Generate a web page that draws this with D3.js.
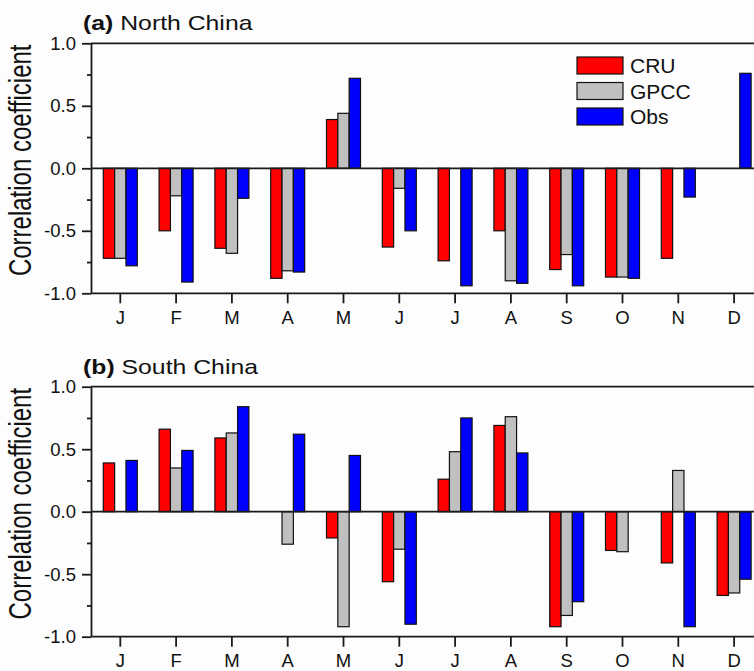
<!DOCTYPE html>
<html>
<head>
<meta charset="utf-8">
<script src="https://cdn.jsdelivr.net/npm/d3@7"></script>
<style>
  html, body { margin: 0; padding: 0; background: #fdfdfd; }
  svg { display: block; }
  text { font-family: "Liberation Sans", Arial, sans-serif; fill: #111; }
</style>
</head>
<body>
<script>
// ---------- DATA ----------
const months = ["J","F","M","A","M","J","J","A","S","O","N","D"];
const seriesNames = ["CRU","GPCC","Obs"];
const seriesColors = ["#ff0000","#c0c0c0","#0000ff"];
const yTicksMajor = [-1.0, -0.5, 0.0, 0.5, 1.0];
const yTicksMinor = [-0.75, -0.25, 0.25, 0.75];

const northCRU  = [-0.72, -0.50, -0.64, -0.88, 0.39, -0.63, -0.74, -0.50, -0.81, -0.87, -0.72, null];
const northGPCC = [-0.72, -0.22, -0.68, -0.82, 0.44, -0.16, null, -0.90, -0.69, -0.87, null, null];
const northObs  = [-0.78, -0.91, -0.24, -0.83, 0.72, -0.50, -0.94, -0.92, -0.94, -0.88, -0.23, 0.76];

const southCRU  = [0.39, 0.66, 0.59, null, -0.21, -0.56, 0.26, 0.69, -0.92, -0.31, -0.41, -0.67];
const southGPCC = [null, 0.35, 0.63, -0.26, -0.92, -0.30, 0.48, 0.76, -0.83, -0.32, 0.33, -0.65];
const southObs  = [0.41, 0.49, 0.84, 0.62, 0.45, -0.90, 0.75, 0.47, -0.72, null, -0.92, -0.54];

const panels = [
  { tag: "(a)", name: "North China", series: [northCRU, northGPCC, northObs], legend: true },
  { tag: "(b)", name: "South China", series: [southCRU, southGPCC, southObs], legend: false }
];

// ---------- LAYOUT ----------
const W = 754, H = 671;
const svg = d3.select("body").append("svg").attr("width", W).attr("height", H);
svg.append("rect").attr("width", W).attr("height", H).attr("fill", "#fdfdfd");

const left = 91, rightEdge = 770;
const panelTops = [43.3, 386.7];
const plotH = 250;
const axisColor = "#1a1a1a";

const x = d3.scaleBand().domain(d3.range(months.length)).range([92.4, 762.0]).padding(0);
const groupW = 34;
const xs = d3.scaleBand().domain(d3.range(seriesNames.length)).range([-groupW/2, groupW/2]).padding(0);

panels.forEach((p, pi) => {
  const top = panelTops[pi];
  const y = d3.scaleLinear().domain([-1, 1]).range([top + plotH, top]);
  const g = svg.append("g");

  // bars
  p.series.forEach((vals, si) => {
    g.selectAll(null)
      .data(vals.map((v, i) => ({ v, i })).filter(d => d.v !== null))
      .enter().append("rect")
      .attr("x", d => x(d.i) + x.bandwidth()/2 + xs(si))
      .attr("width", xs.bandwidth())
      .attr("y", d => Math.min(y(d.v), y(0)))
      .attr("height", d => Math.abs(y(d.v) - y(0)))
      .attr("fill", seriesColors[si])
      .attr("stroke", "#111")
      .attr("stroke-width", 1.2);
  });

  const lineStyle = sel => sel.attr("stroke", axisColor).attr("stroke-width", 1.8);
  g.append("line").attr("x1", left).attr("x2", rightEdge).attr("y1", y(1)).attr("y2", y(1)).call(lineStyle);
  g.append("line").attr("x1", left).attr("x2", rightEdge).attr("y1", y(0)).attr("y2", y(0)).call(lineStyle);

  // y axis (major)
  const yAxis = d3.axisLeft(y).tickValues(yTicksMajor).tickSize(9).tickSizeOuter(0)
    .tickFormat(d => d.toFixed(1)).tickPadding(6);
  const ya = g.append("g").attr("transform", `translate(${left},0)`).call(yAxis);
  ya.select(".domain").attr("stroke", axisColor).attr("stroke-width", 1.8);
  ya.selectAll(".tick line").attr("stroke", axisColor).attr("stroke-width", 1.8);
  ya.selectAll(".tick text").attr("font-size", 18.5).attr("fill", "#111")
    .attr("font-family", "Liberation Sans, Arial, sans-serif");
  // minor ticks
  const yMinor = d3.axisLeft(y).tickValues(yTicksMinor).tickSize(4).tickSizeOuter(0).tickFormat("");
  const ym = g.append("g").attr("transform", `translate(${left},0)`).call(yMinor);
  ym.select(".domain").remove();
  ym.selectAll(".tick line").attr("stroke", axisColor).attr("stroke-width", 1.8);

  // x axis
  const xAxis = d3.axisBottom(x).tickSize(10).tickSizeOuter(0).tickPadding(7.5)
    .tickFormat(i => months[i]);
  const xa = g.append("g").attr("transform", `translate(0,${y(-1)})`).call(xAxis);
  xa.select(".domain").remove();
  g.append("line").attr("x1", left).attr("x2", rightEdge).attr("y1", y(-1)).attr("y2", y(-1)).call(lineStyle);
  xa.selectAll(".tick line").attr("stroke", axisColor).attr("stroke-width", 1.8);
  xa.selectAll(".tick text").attr("font-size", 18.5).attr("fill", "#111")
    .attr("font-family", "Liberation Sans, Arial, sans-serif");

  // title
  const t = g.append("text")
    .attr("transform", `translate(83,${top - 13}) scale(1.24,1)`)
    .attr("font-size", 20);
  t.append("tspan").attr("font-weight", "bold").text(p.tag);
  t.append("tspan").text(" " + p.name);

  // y label
  g.append("text")
    .attr("transform", `translate(31,${top + plotH/2 - 8}) rotate(-90) scale(1,1.28)`)
    .attr("text-anchor", "middle")
    .attr("font-size", 24)
    .text("Correlation coefficient");

  // legend
  if (p.legend) {
    const lg = g.append("g");
    seriesNames.forEach((s, si) => {
      const ly = 57 + si * 25.5;
      lg.append("rect").attr("x", 577).attr("y", ly).attr("width", 46).attr("height", 17)
        .attr("fill", seriesColors[si]).attr("stroke", "#111").attr("stroke-width", 1.2);
      lg.append("text").attr("x", 630).attr("y", ly + 8.5).attr("dy", "0.36em")
        .attr("font-size", 21).text(s);
    });
  }
});
</script>
</body>
</html>
